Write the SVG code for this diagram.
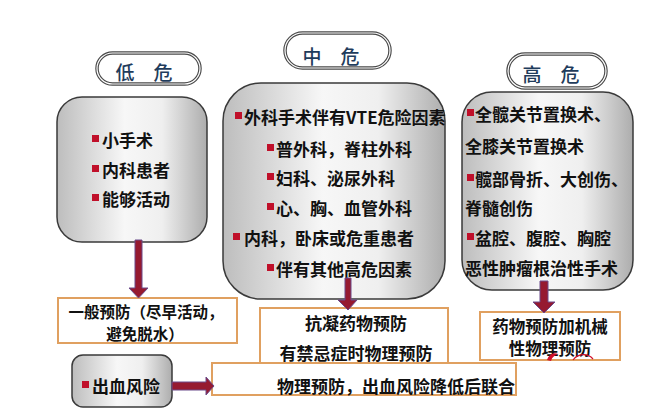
<svg xmlns="http://www.w3.org/2000/svg" width="650" height="416" viewBox="0 0 650 416">
<defs>
<linearGradient id="g" x1="0" y1="0" x2="1" y2="0">
<stop offset="0" stop-color="#bdbdbd"/>
<stop offset="0.45" stop-color="#f7f7f7"/>
<stop offset="0.7" stop-color="#efefef"/>
<stop offset="1" stop-color="#adadad"/>
</linearGradient>
<style>
.pill{fill:#fff;stroke:#4a4a4a;stroke-width:3.5}
.pill2{fill:none;stroke:#fff;stroke-width:1.2}
.ptx{font-family:"Noto Sans CJK SC",sans-serif;font-size:19px;font-weight:500;fill:#1f3c5c;dominant-baseline:central;text-anchor:middle}
.box{fill:url(#g);stroke:#3a3a3a;stroke-width:1.5}
.tx{font-family:"Noto Sans CJK SC",sans-serif;font-size:17px;font-weight:bold;fill:#111;dominant-baseline:central}
.mid{text-anchor:middle}
.b{fill:#c0102a}
.ob{fill:#fff;stroke:#e0a060;stroke-width:2}
.arr{fill:#961a30;stroke:#6a4a8a;stroke-width:1}
</style>
</defs>
<rect width="650" height="416" fill="#fff"/>

<g id="low-label">
<rect class="pill" x="97" y="53" width="103" height="31" rx="15.5"/>
<rect class="pill2" x="97" y="53" width="103" height="31" rx="15.5"/>
<text class="ptx" x="144" y="71">低　危</text>
</g>
<g id="mid-label">
<rect class="pill" x="285" y="33" width="105" height="35" rx="17.5"/>
<rect class="pill2" x="285" y="33" width="105" height="35" rx="17.5"/>
<text class="ptx" x="331" y="55">中　危</text>
</g>
<g id="high-label">
<rect class="pill" x="508" y="54" width="98" height="34" rx="17"/>
<rect class="pill2" x="508" y="54" width="98" height="34" rx="17"/>
<text class="ptx" x="551" y="73">高　危</text>
</g>

<g id="low-box">
<rect class="box" x="57" y="97" width="150" height="145" rx="25"/>
<rect class="b" x="92" y="135" width="7" height="7"/>
<text class="tx" x="102" y="139">小手术</text>
<rect class="b" x="92" y="165" width="7" height="7"/>
<text class="tx" x="102" y="169">内科患者</text>
<rect class="b" x="92" y="194" width="7" height="7"/>
<text class="tx" x="102" y="198">能够活动</text>
</g>

<g id="mid-box">
<rect class="box" x="223" y="83" width="222" height="216" rx="38"/>
<rect class="b" x="235" y="112" width="7" height="7"/>
<text class="tx" x="244" y="116">外科手术伴有VTE危险因素</text>
<rect class="b" x="267" y="144" width="7" height="7"/>
<text class="tx" x="276" y="148">普外科，脊柱外科</text>
<rect class="b" x="267" y="173" width="7" height="7"/>
<text class="tx" x="276" y="177">妇科、泌尿外科</text>
<rect class="b" x="267" y="203" width="7" height="7"/>
<text class="tx" x="276" y="207">心、胸、血管外科</text>
<rect class="b" x="233" y="233" width="7" height="7"/>
<text class="tx" x="244" y="237">内科，卧床或危重患者</text>
<rect class="b" x="267" y="264" width="7" height="7"/>
<text class="tx" x="276" y="268">伴有其他高危因素</text>
</g>

<g id="high-box">
<rect class="box" x="462" y="92" width="171" height="198" rx="30"/>
<rect class="b" x="467" y="109" width="7" height="7"/>
<text class="tx" x="475" y="113">全髋关节置换术、</text>
<text class="tx" x="465" y="145">全膝关节置换术</text>
<rect class="b" x="467" y="174" width="7" height="7"/>
<text class="tx" x="475" y="178">髋部骨折、大创伤、</text>
<text class="tx" x="465" y="207">脊髓创伤</text>
<rect class="b" x="467" y="233" width="7" height="7"/>
<text class="tx" x="475" y="237">盆腔、腹腔、胸腔</text>
<text class="tx" x="465" y="267">恶性肿瘤根治性手术</text>
</g>

<g id="general-prevention">
<rect class="ob" x="58" y="298" width="179" height="45"/>
<text class="tx mid" x="146" y="311" style="font-size:15.5px">一般预防（尽早活动，</text>
<text class="tx mid" x="145" y="333" style="font-size:15.5px">避免脱水）</text>
</g>

<g id="anticoag">
<rect class="ob" x="260" y="308" width="188" height="56"/>
<text class="tx mid" x="356" y="322">抗凝药物预防</text>
<text class="tx mid" x="356" y="352">有禁忌症时物理预防</text>
</g>

<g id="combined">
<rect class="ob" x="480" y="312" width="140" height="48"/>
<text class="tx mid" x="550" y="326" style="font-size:16.5px">药物预防加机械</text>
<text class="tx mid" x="550" y="348" style="font-size:16.5px">性物理预防</text>
<path d="M547 360 C549 354 554 352 558 354 C555 355 552 357 551 361 Z" fill="#d0102a"/>
<path d="M573 360 C578 353 588 353 593 359" fill="none" stroke="#d0102a" stroke-width="1.2"/>
</g>

<g id="bleeding-risk">
<rect class="box" x="72" y="355" width="100" height="52" rx="11"/>
<rect class="b" x="82" y="381" width="7" height="7"/>
<text class="tx" x="92" y="385">出血风险</text>
</g>

<g id="physical-prevention">
<rect class="ob" x="212" y="363" width="304" height="32"/>
<text class="tx" x="277" y="385">物理预防，出血风险降低后联合</text>
</g>

<g id="connectors">
<polygon class="arr" points="135,240 142,240 142,288 148,288 138.5,298 129,288 135,288"/>
<polygon class="arr" points="345,278 351,278 351,300 357,300 348,310 338,300 345,300"/>
<polygon class="arr" points="540,281 548,281 548,302 555,302 544,313 533,302 540,302"/>
<polygon class="arr" points="172,382 206,382 206,377 214,386 206,395 206,390 172,390"/>
</g>
</svg>
